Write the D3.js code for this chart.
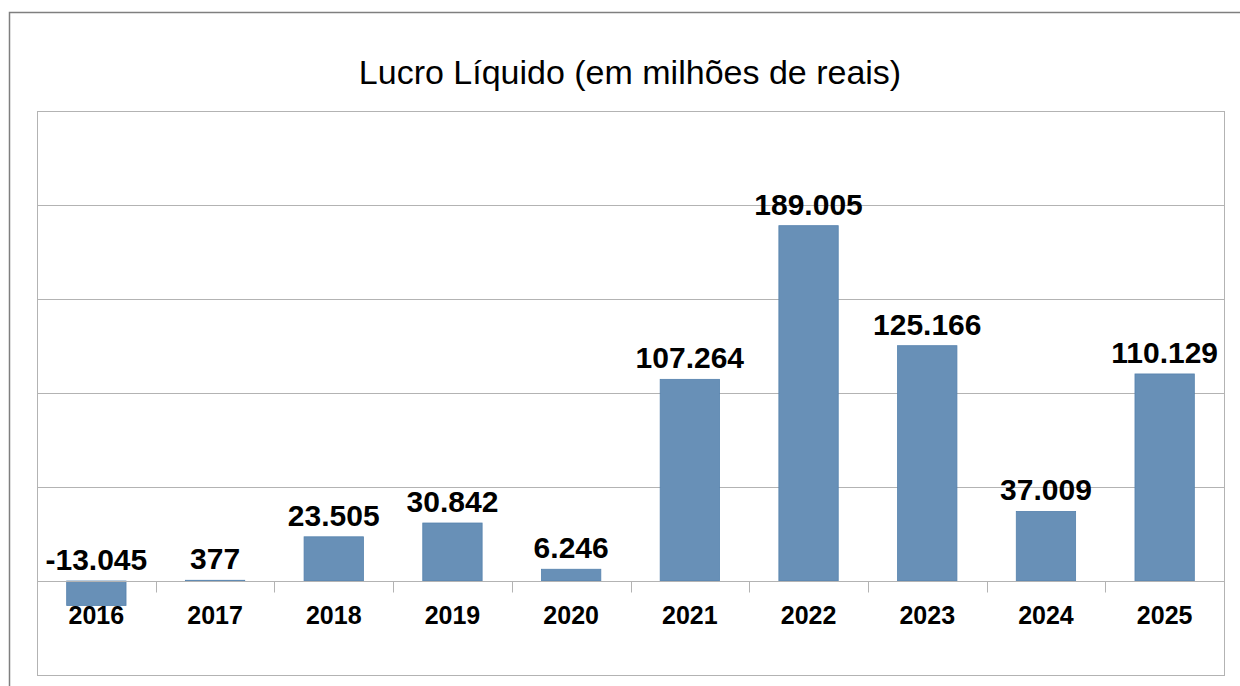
<!DOCTYPE html>
<html>
<head>
<meta charset="utf-8">
<script src="https://cdn.jsdelivr.net/npm/d3@7"></script>
<style>
  html, body { margin: 0; padding: 0; background: #fff; }
  svg { display: block; font-family: "Liberation Sans", Arial, sans-serif; }
</style>
</head>
<body>
<svg id="chart" width="1240" height="686"></svg>
<script>
// chart data
const years = ['2016', '2017', '2018', '2019', '2020', '2021', '2022', '2023', '2024', '2025'];
const lucro = [-13045, 377, 23505, 30842, 6246, 107264, 189005, 125166, 37009, 110129];
const gridValues = [-50000, 0, 50000, 100000, 150000, 200000, 250000];
const titleText = 'Lucro Líquido (em milhões de reais)';

const svg = d3.select('svg#chart');

// outer frame (runs off the right / bottom edge)
svg.append('rect')
  .attr('x', 9.5).attr('y', 12.5)
  .attr('width', 1250).attr('height', 700)
  .attr('fill', '#fff')
  .attr('stroke', '#7f7f7f')
  .attr('stroke-width', 1.5);

svg.append('text')
  .attr('x', 630).attr('y', 84)
  .attr('text-anchor', 'middle')
  .style('font-size', '34px')
  .attr('fill', '#000')
  .text(titleText);

const plot = {left: 37, right: 1224, top: 111, bottom: 675};

const x = d3.scaleBand()
  .domain(years)
  .range([plot.left, plot.right])
  .paddingInner(0.5)
  .paddingOuter(0.25);

const y = d3.scaleLinear()
  .domain([-50000, 250000])
  .range([plot.bottom, plot.top]);

const g = svg.append('g');

// gridlines
g.selectAll('line.grid')
  .data(gridValues)
  .enter().append('line')
  .attr('class', 'grid')
  .attr('x1', plot.left).attr('x2', plot.right)
  .attr('y1', (d) => Math.round(y(d)) + 0.5)
  .attr('y2', (d) => Math.round(y(d)) + 0.5)
  .attr('stroke', '#b3b3b3')
  .attr('stroke-width', 1);

// plot border
g.append('rect')
  .attr('x', plot.left + 0.5).attr('y', plot.top + 0.5)
  .attr('width', plot.right - plot.left).attr('height', plot.bottom - plot.top)
  .attr('fill', 'none')
  .attr('stroke', '#b3b3b3');

// bars
g.selectAll('rect.bar')
  .data(lucro)
  .enter().append('rect')
  .attr('class', 'bar')
  .attr('x', (d, i) => x(years[i]))
  .attr('width', x.bandwidth())
  .attr('y', (d) => Math.min(y(d), y(0)))
  .attr('height', (d) => Math.max(1, Math.abs(y(d) - y(0))))
  .attr('fill', '#6890b7')
  .attr('stroke', '#5582ad')
  .attr('stroke-width', 0.8);

// x axis at zero with ticks at the band boundaries
const step = x.step();
const tickPos = d3.range(years.length + 1).map((i) => plot.left + i * step);
const zeroY = Math.round(y(0)) + 0.5;
g.selectAll('line.tick')
  .data(tickPos)
  .enter().append('line')
  .attr('class', 'tick')
  .attr('x1', (d) => Math.round(d) + 0.5).attr('x2', (d) => Math.round(d) + 0.5)
  .attr('y1', zeroY).attr('y2', zeroY + 11)
  .attr('stroke', '#b3b3b3');

g.append('line')
  .attr('x1', plot.left).attr('x2', plot.right)
  .attr('y1', zeroY).attr('y2', zeroY)
  .attr('stroke', '#b3b3b3');

// category labels
g.selectAll('text.cat')
  .data(years)
  .enter().append('text')
  .attr('class', 'cat')
  .attr('x', (d) => x(d) + x.bandwidth() / 2)
  .attr('y', 624)
  .attr('text-anchor', 'middle')
  .style('font-size', '25px')
  .style('font-weight', 'bold')
  .text((d) => d);

// value labels
const fmt = (v) => (v < 0 ? '-' : '') + d3.format(',')(Math.abs(v)).replace(/,/g, '.');
g.selectAll('text.val')
  .data(lucro)
  .enter().append('text')
  .attr('class', 'val')
  .attr('x', (d, i) => x(years[i]) + x.bandwidth() / 2)
  .attr('y', (d) => Math.min(y(d), y(0)) - 11)
  .attr('text-anchor', 'middle')
  .style('font-size', '30px')
  .style('font-weight', 'bold')
  .text(fmt);
</script>
</body>
</html>
